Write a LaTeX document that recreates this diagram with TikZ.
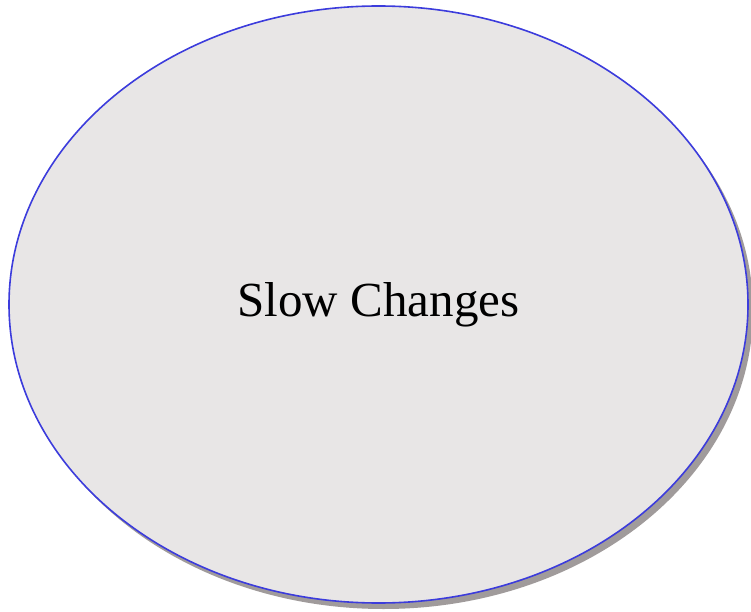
\documentclass[tikz,border=0pt]{standalone}
\usepackage{fontspec}
\setmainfont{Liberation Serif}
\usepackage{tikz}
\usetikzlibrary{shapes.geometric,shadows}
\definecolor{cellfill}{HTML}{E8E6E6}
\definecolor{cellline}{HTML}{3C3CDC}
\definecolor{cellshade}{HTML}{A09B9B}

\begin{document}
\begin{tikzpicture}[
  x=1pt, y=1pt,
  state/.style={ellipse, draw=cellline, line width=1.6pt, fill=cellfill,
    minimum width=739pt, minimum height=597pt, inner sep=0pt,
    font=\fontsize{49}{58}\selectfont,
    drop shadow={shadow xshift=5pt, shadow yshift=-6pt, fill=cellshade, opacity=1}}
]
\useasboundingbox (0,0) rectangle (751,611);
\node[state] (slow) at (378.5,306.5) {Slow Changes};
\end{tikzpicture}
\end{document}
